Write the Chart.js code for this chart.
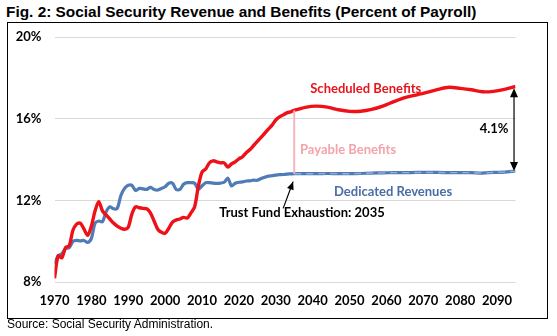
<!DOCTYPE html>
<html><head><meta charset="utf-8">
<script src="https://cdn.jsdelivr.net/npm/chart.js@4.4.0/dist/chart.umd.min.js"></script>
<style>
html,body{margin:0;padding:0;background:#fff;width:557px;height:336px;overflow:hidden;}
#title{position:absolute;left:6px;top:3px;font:bold 15.4px "Liberation Sans Narrow","Arial Narrow",sans-serif;color:#000;white-space:nowrap;line-height:17px;}
#frame{position:absolute;left:7px;top:22px;width:539px;height:295px;border:1px solid #000;}
#source{position:absolute;left:7px;top:318px;font:12px "Liberation Sans",Arial,sans-serif;color:#000;line-height:13px;white-space:nowrap;}
#wrap{position:absolute;left:0;top:0;width:557px;height:336px;}
</style></head><body>
<div id="title">Fig. 2: Social Security Revenue and Benefits (Percent of Payroll)</div>
<div id="frame"></div>
<div id="wrap"><canvas id="c" width="557" height="336"></canvas></div>
<div id="source">Source: Social Security Administration.</div>
<script>
// ---- data ----
const years = [1970,1971,1972,1973,1974,1975,1976,1977,1978,1979,
  1980,1981,1982,1983,1984,1985,1986,1987,1988,1989,
  1990,1991,1992,1993,1994,1995,1996,1997,1998,1999,
  2000,2001,2002,2003,2004,2005,2006,2007,2008,2009,
  2010,2011,2012,2013,2014,2015,2016,2017,2018,2019,
  2020,2021,2022,2023,2024,2025,2026,2027,2028,2029,
  2030,2031,2032,2033,2034,2035,
  2038,2041,2044,2047,2050,2053,2056,2059,2062,2065,
  2068,2071,2074,2077,2080,2083,2086,2089,2092,2095];
const scheduledBenefits = [8.2,9.3,9.2,9.7,9.8,10.55,10.85,10.9,10.6,10.3,
  10.75,11.5,11.95,11.5,11.3,11.1,10.9,10.75,10.65,10.6,
  10.7,11.35,11.7,11.65,11.62,11.6,11.4,11.0,10.6,10.45,
  10.4,10.65,10.95,11.05,11.1,11.18,11.15,11.4,11.7,12.7,
  13.4,13.55,13.85,13.95,13.9,13.85,13.85,13.65,13.8,13.9,
  14.05,14.15,14.35,14.5,14.7,14.9,15.1,15.3,15.5,15.7,
  15.95,16.1,16.2,16.3,16.35,16.42,
  16.57,16.63,16.58,16.45,16.37,16.38,16.47,16.63,16.85,17.05,
  17.17,17.3,17.45,17.55,17.5,17.43,17.33,17.35,17.45,17.6];
const dedicatedRevenues = [8.9,9.3,9.4,9.65,9.7,10.0,10.05,10.03,10.05,9.95,
  10.15,10.9,11.0,10.97,11.45,11.7,11.6,11.62,12.25,12.6,
  12.75,12.75,12.5,12.6,12.58,12.55,12.65,12.55,12.52,12.6,
  12.68,12.85,12.85,12.55,12.55,12.8,12.88,12.88,12.85,12.55,
  12.72,12.88,12.88,12.86,12.85,12.86,12.9,13.1,12.72,12.85,
  12.9,12.92,12.96,12.97,13.0,13.0,13.08,13.15,13.2,13.22,
  13.25,13.27,13.28,13.3,13.31,13.32,
  13.32,13.32,13.33,13.32,13.32,13.33,13.35,13.36,13.37,13.37,
  13.38,13.38,13.38,13.37,13.37,13.37,13.35,13.38,13.4,13.45];
const xTickValues = [1970,1980,1990,2000,2010,2020,2030,2040,2050,2060,2070,2080,2090];
const yTickValues = [8,12,16,20];
const exhaustionYear = 2035;
const gapText = '4.1%';

// ---- build ----
const toXY = arr => years.map((x, i) => ({x, y: arr[i]}));
const iEx = years.indexOf(exhaustionYear);
const payable = [{x: exhaustionYear, y: scheduledBenefits[iEx]}]
  .concat(years.slice(iEx).map((x, k) => ({x, y: dedicatedRevenues[iEx + k]})));
const lastI = years.length - 1;

const TXT = '"Lato","Open Sans",sans-serif';

function arrowHead(ctx, x1, y1, x2, y2, len, w) {
  const a = Math.atan2(y2 - y1, x2 - x1);
  ctx.beginPath();
  ctx.moveTo(x2, y2);
  ctx.lineTo(x2 - len * Math.cos(a) + w / 2 * Math.sin(a), y2 - len * Math.sin(a) - w / 2 * Math.cos(a));
  ctx.lineTo(x2 - len * Math.cos(a) - w / 2 * Math.sin(a), y2 - len * Math.sin(a) + w / 2 * Math.cos(a));
  ctx.closePath();
  ctx.fill();
}

const annotations = {
  id: 'annotations',
  afterDatasetsDraw(chart) {
    const {ctx, scales: {x, y}} = chart;
    const X = v => x.getPixelForValue(v), Y = v => y.getPixelForValue(v);
    ctx.save();
    ctx.textAlign = 'center';
    ctx.textBaseline = 'middle';
    ctx.font = 'bold 13px ' + TXT;
    ctx.fillStyle = '#e8141c';
    ctx.fillText('Scheduled Benefits', X(2054.4), Y(17.5));
    ctx.fillStyle = '#f4a3ab';
    ctx.fillText('Payable Benefits', X(2049.6), Y(14.48));
    ctx.fillStyle = '#4a6ea3';
    ctx.fillText('Dedicated Revenues', X(2061.8), Y(12.44));
    ctx.fillStyle = '#000';
    ctx.fillText('Trust Fund Exhaustion: 2035', X(2037.1), Y(11.38));
    ctx.fillText(gapText, X(2089.2), Y(15.5));
    // trust fund arrow
    ctx.strokeStyle = '#000'; ctx.lineWidth = 1.2;
    const ax1 = X(2032.0), ay1 = Y(11.62), ax2 = X(2034.7), ay2 = Y(12.93);
    ctx.beginPath(); ctx.moveTo(ax1, ay1); ctx.lineTo(ax2, ay2); ctx.stroke();
    arrowHead(ctx, ax1, ay1, ax2, ay2, 8, 7);
    // gap double arrow
    const gx = X(2094.6), gy1 = Y(scheduledBenefits[lastI]) + 2, gy2 = Y(dedicatedRevenues[lastI]);
    ctx.beginPath(); ctx.moveTo(gx, gy1 + 4); ctx.lineTo(gx, gy2 - 4); ctx.stroke();
    arrowHead(ctx, gx, gy2, gx, gy1, 9, 8);
    arrowHead(ctx, gx, gy1, gx, gy2, 9, 8);
    ctx.restore();
  }
};

new Chart(document.getElementById('c'), {
  type: 'line',
  data: {
    datasets: [
      {label: 'Payable Benefits', data: payable, borderColor: '#f5b7bd', borderWidth: 2,
       pointRadius: 0, tension: 0, order: 0,
       segment: {
         borderColor: c => c.p0DataIndex > 0 ? 'rgba(165,184,218,0.85)' : undefined,
         borderDash: c => c.p0DataIndex > 0 ? [7, 5] : undefined,
         borderWidth: c => c.p0DataIndex > 0 ? 1.4 : undefined
       }},
      {label: 'Scheduled Benefits', data: toXY(scheduledBenefits), borderColor: '#ee1118', borderWidth: 3.4,
       pointRadius: 0, tension: 0.3, order: 1},
      {label: 'Dedicated Revenues', data: toXY(dedicatedRevenues), borderColor: '#4f7bb6', borderWidth: 3.2,
       pointRadius: 0, tension: 0.3, order: 2}
    ]
  },
  options: {
    responsive: false, animation: false, devicePixelRatio: 1,
    layout: {padding: {left: 0, right: 41.5, top: 37.3, bottom: 23.7}},
    plugins: {legend: {display: false}, tooltip: {enabled: false}},
    scales: {
      x: {
        type: 'linear', min: 1970, max: 2095,
        afterBuildTicks: s => { s.ticks = xTickValues.map(v => ({value: v})); },
        afterFit: s => { s.height = 30; },
        grid: {display: false, drawTicks: false},
        border: {display: false},
        ticks: {autoSkip: false, maxRotation: 0, padding: 11, color: '#000',
          font: {family: TXT, weight: 'bold', size: 13}, callback: v => String(v)}
      },
      y: {
        min: 8, max: 20,
        afterBuildTicks: s => { s.ticks = yTickValues.map(v => ({value: v})); },
        afterFit: s => { s.width = 54.5; },
        grid: {color: '#d9d9d9', lineWidth: 1, drawTicks: false},
        border: {display: false},
        ticks: {padding: 13, color: '#000', font: {family: TXT, weight: 'bold', size: 13},
          callback: v => v + '%'}
      }
    }
  },
  plugins: [annotations]
});
</script>
</body></html>
